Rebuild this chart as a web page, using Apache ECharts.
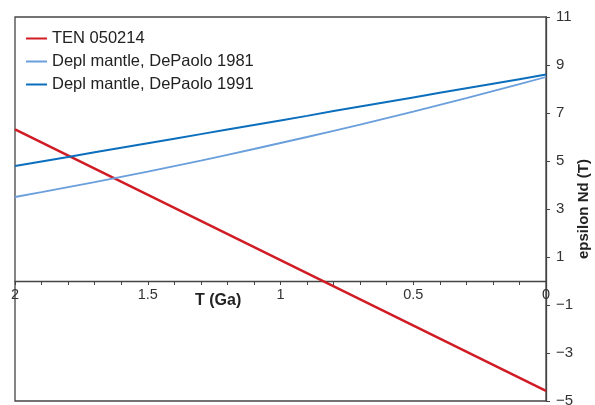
<!DOCTYPE html>
<html>
<head>
<meta charset="utf-8">
<script src="https://cdn.jsdelivr.net/npm/echarts@6/dist/echarts.min.js"></script>
<style>html,body{margin:0;padding:0;background:#fff}#c{width:595px;height:405px}</style>
</head>
<body>
<div id="c"></div>
<script>
// Age T (Ga)
const ages = [0,0.1,0.2,0.3,0.4,0.5,0.6,0.7,0.8,0.9,1.0,1.1,1.2,1.3,1.4,1.5,1.6,1.7,1.8,1.9,2.0];
// TEN 050214 (straight line)
const tenAges = [0, 2];
const tenValues = [-4.58, 6.32];
// Depleted mantle, DePaolo 1981
const dm1981 = [8.50,8.20,7.91,7.62,7.34,7.06,6.79,6.52,6.26,6.00,5.75,5.50,5.26,5.02,4.79,4.56,4.34,4.12,3.91,3.70,3.50];
// Depleted mantle, DePaolo 1991
const dm1991 = [8.60,8.41,8.22,8.03,7.84,7.65,7.46,7.27,7.08,6.88,6.69,6.50,6.31,6.12,5.93,5.74,5.55,5.36,5.17,4.98,4.79];
const seriesNames = ['TEN 050214','Depl mantle, DePaolo 1981','Depl mantle, DePaolo 1991'];
const xTickLabels = [0, 0.5, 1, 1.5, 2];
const xMinorTicks = ages;
const yTicks = [-5,-3,-1,1,3,5,7,9,11];

const pair = (xs, ys) => xs.map((x, i) => [x, ys[i]]);
const font = '"Liberation Sans", Arial, Helvetica, sans-serif';
const chart = echarts.init(document.getElementById('c'), null, {renderer: 'canvas'});
chart.setOption({
  animation: false,
  grid: {left: 15, right: 49, top: 17, bottom: 4, outerBoundsMode: 'none', containLabel: false,
    show: true, borderColor: '#444', borderWidth: 1.3, backgroundColor: 'transparent'},
  legend: {
    left: 21, top: 25, orient: 'vertical', itemGap: 6, itemWidth: 21, itemHeight: 14,
    textStyle: {fontFamily: font, fontSize: 16.5, color: '#222'},
    icon: 'path://M0,6 L21,6 L21,8 L0,8 Z',
    data: seriesNames
  },
  xAxis: [{
    type: 'value', inverse: true, min: 0, max: 2, show: false,
    axisLine: {onZero: false}, splitLine: {show: false}
  }, {
    type: 'value', inverse: true, min: 0, max: 2, interval: 0.1, position: 'bottom', offset: -120,
    axisLine: {onZero: false, lineStyle: {color: '#444', width: 1.3}},
    axisTick: {show: true, length: 4, customValues: xMinorTicks, lineStyle: {color: '#444', width: 1}},
    axisLabel: {customValues: xTickLabels, margin: 6, fontFamily: font, fontSize: 14.5, color: '#333',
      formatter: v => String(+v.toFixed(1))},
    splitLine: {show: false}
  }],
  yAxis: {
    type: 'value', position: 'right', min: -5, max: 11,
    axisLine: {show: true, onZero: false, lineStyle: {color: '#444', width: 1.3}},
    axisTick: {show: true, length: 4, customValues: yTicks, lineStyle: {color: '#444', width: 1}},
    axisLabel: {customValues: yTicks, margin: 10, fontFamily: font, fontSize: 15, color: '#333',
      formatter: v => String(v).replace('-', '\u2212')},
    splitLine: {show: false},
    name: 'epsilon Nd (T)', nameLocation: 'middle', nameRotate: 90, nameGap: 30, nameMoveOverlap: false,
    nameTextStyle: {fontFamily: font, fontSize: 15, fontWeight: 'bold', color: '#222'}
  },
  graphic: [{
    type: 'text', left: 195, top: 293,
    style: {text: 'T (Ga)', fontFamily: font, fontSize: 16, fontWeight: 'bold', fill: '#222'}
  }],
  series: [
    {name: seriesNames[0], type: 'line', xAxisIndex: 0, data: pair(tenAges, tenValues), symbol: 'none', lineStyle: {color: '#d01c24', width: 2.5}, itemStyle: {color: '#d01c24'}},
    {name: seriesNames[1], type: 'line', xAxisIndex: 0, data: pair(ages, dm1981), symbol: 'none', lineStyle: {color: '#6a9fdc', width: 1.8}, itemStyle: {color: '#6a9fdc'}},
    {name: seriesNames[2], type: 'line', xAxisIndex: 0, data: pair(ages, dm1991), symbol: 'none', lineStyle: {color: '#0b6fbd', width: 2}, itemStyle: {color: '#0b6fbd'}}
  ]
});
</script>
</body>
</html>
